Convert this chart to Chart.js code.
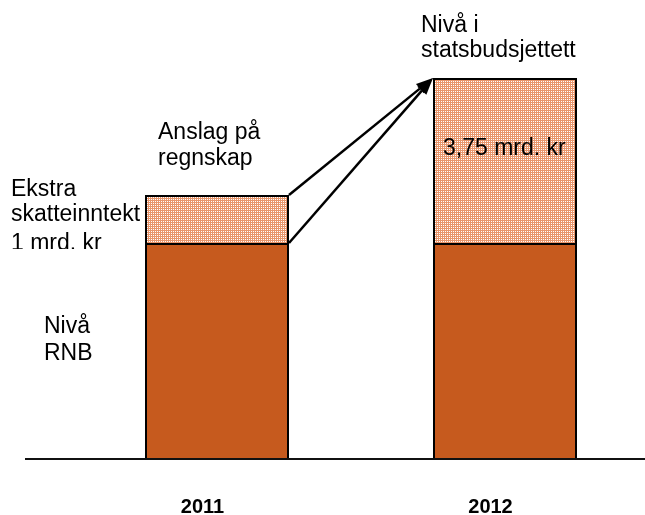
<!DOCTYPE html>
<html><head><meta charset="utf-8">
<script src="https://cdn.jsdelivr.net/npm/chart.js@4/dist/chart.umd.min.js"></script>
<style>
html,body{margin:0;padding:0;background:#fff;overflow:hidden;width:645px;height:515px}
#wrap{width:649px;height:515px}
</style></head>
<body><div id="wrap"><canvas id="c" width="649" height="515"></canvas></div>
<script>
// ---- data (units: 1 = the 2011 extra revenue block) ----
const categories = ['2011', '2012'];
const baseLevel = [4.5, 4.5];        // Nivå RNB
const extraRevenue = [1.0, 3.44];    // Ekstra skatteinntekt / nivå i statsbudsjettet
const yMax = 8;

// ---- annotation texts ----
const noteLines = [
  ['Anslag på', 158, 139], ['regnskap', 158, 165],
  ['Ekstra', 11, 196], ['skatteinntekt', 11, 221], ['1 mrd. kr', 11, 250],
  ['Nivå', 44, 333], ['RNB', 44, 360],
  ['Nivå i', 421, 32], ['statsbudsjettett', 421, 57],
  ['3,75 mrd. kr', 443, 155]
];

const FONT = '"Liberation Sans", Arial, sans-serif';

function hatch() {
  const c = document.createElement('canvas');
  c.width = 2; c.height = 2;
  const x = c.getContext('2d');
  x.fillStyle = '#E8966C'; x.fillRect(0, 0, 2, 2);
  x.fillStyle = '#FFFFFF'; x.fillRect(1, 1, 1, 1);
  return x.createPattern(c, 'repeat');
}

function arrow(ctx, x1, y1, x2, y2) {
  const a = Math.atan2(y2 - y1, x2 - x1);
  const L = 17, W = 6;
  const bx = x2 - L * Math.cos(a), by = y2 - L * Math.sin(a);
  ctx.beginPath(); ctx.moveTo(x1, y1); ctx.lineTo(bx, by); ctx.stroke();
  ctx.beginPath();
  ctx.moveTo(x2, y2);
  ctx.lineTo(bx + W * Math.sin(a), by - W * Math.cos(a));
  ctx.lineTo(bx - W * Math.sin(a), by + W * Math.cos(a));
  ctx.closePath(); ctx.fill();
}

const overlay = {
  id: 'overlay',
  afterDatasetsDraw(chart) {
    const ctx = chart.ctx;
    const y0 = chart.scales.y.getPixelForValue(0);
    ctx.save();
    // baseline
    ctx.strokeStyle = '#111'; ctx.lineWidth = 2;
    ctx.beginPath(); ctx.moveTo(25, y0); ctx.lineTo(645, y0); ctx.stroke();
    // arrows from 2011 to 2012
    const base = chart.getDatasetMeta(0).data;
    const extra = chart.getDatasetMeta(1).data;
    const sx = base[0].x + base[0].width / 2;
    const tx = extra[1].x - extra[1].width / 2, ty = extra[1].y;
    ctx.strokeStyle = '#000'; ctx.fillStyle = '#000'; ctx.lineWidth = 2.5;
    arrow(ctx, sx, extra[0].y, tx, ty);
    arrow(ctx, sx, base[0].y, tx, ty);
    // texts
    ctx.fillStyle = '#000';
    ctx.font = '23px ' + FONT;
    ctx.textBaseline = 'alphabetic';
    ctx.textAlign = 'left';
    noteLines.forEach(([t, x, y]) => {
      if (t === '1 mrd. kr') {
        ctx.save();
        ctx.beginPath(); ctx.rect(0, 0, 645, y - 1); ctx.clip();
        ctx.fillText(t, x, y);
        ctx.restore();
      } else {
        ctx.fillText(t, x, y);
      }
    });
    ctx.restore();
  }
};

new Chart(document.getElementById('c'), {
  type: 'bar',
  data: {
    labels: categories,
    datasets: [
      { label: 'Nivå RNB', data: baseLevel, backgroundColor: '#C65A1E', borderColor: '#000', borderWidth: 2 },
      { label: 'Ekstra', data: extraRevenue, backgroundColor: hatch(), borderColor: '#000', borderWidth: 2 }
    ]
  },
  options: {
    responsive: false,
    animation: false,
    events: [],
    layout: { padding: { left: 73, right: 0, top: 75, bottom: 0 } },
    datasets: { bar: { categoryPercentage: 1, barPercentage: 0.5 } },
    plugins: { legend: { display: false }, tooltip: { enabled: false } },
    scales: {
      x: {
        stacked: true,
        grid: { display: false, drawTicks: false },
        border: { display: false },
        afterFit(scale) { scale.height = 56; },
        ticks: {
          padding: 38, labelOffset: -14.5, color: '#000',
          font: { family: FONT, size: 20, weight: 'bold', lineHeight: 1 }
        }
      },
      y: { stacked: true, display: false, min: 0, max: yMax }
    }
  },
  plugins: [overlay]
});
</script>
</body></html>
